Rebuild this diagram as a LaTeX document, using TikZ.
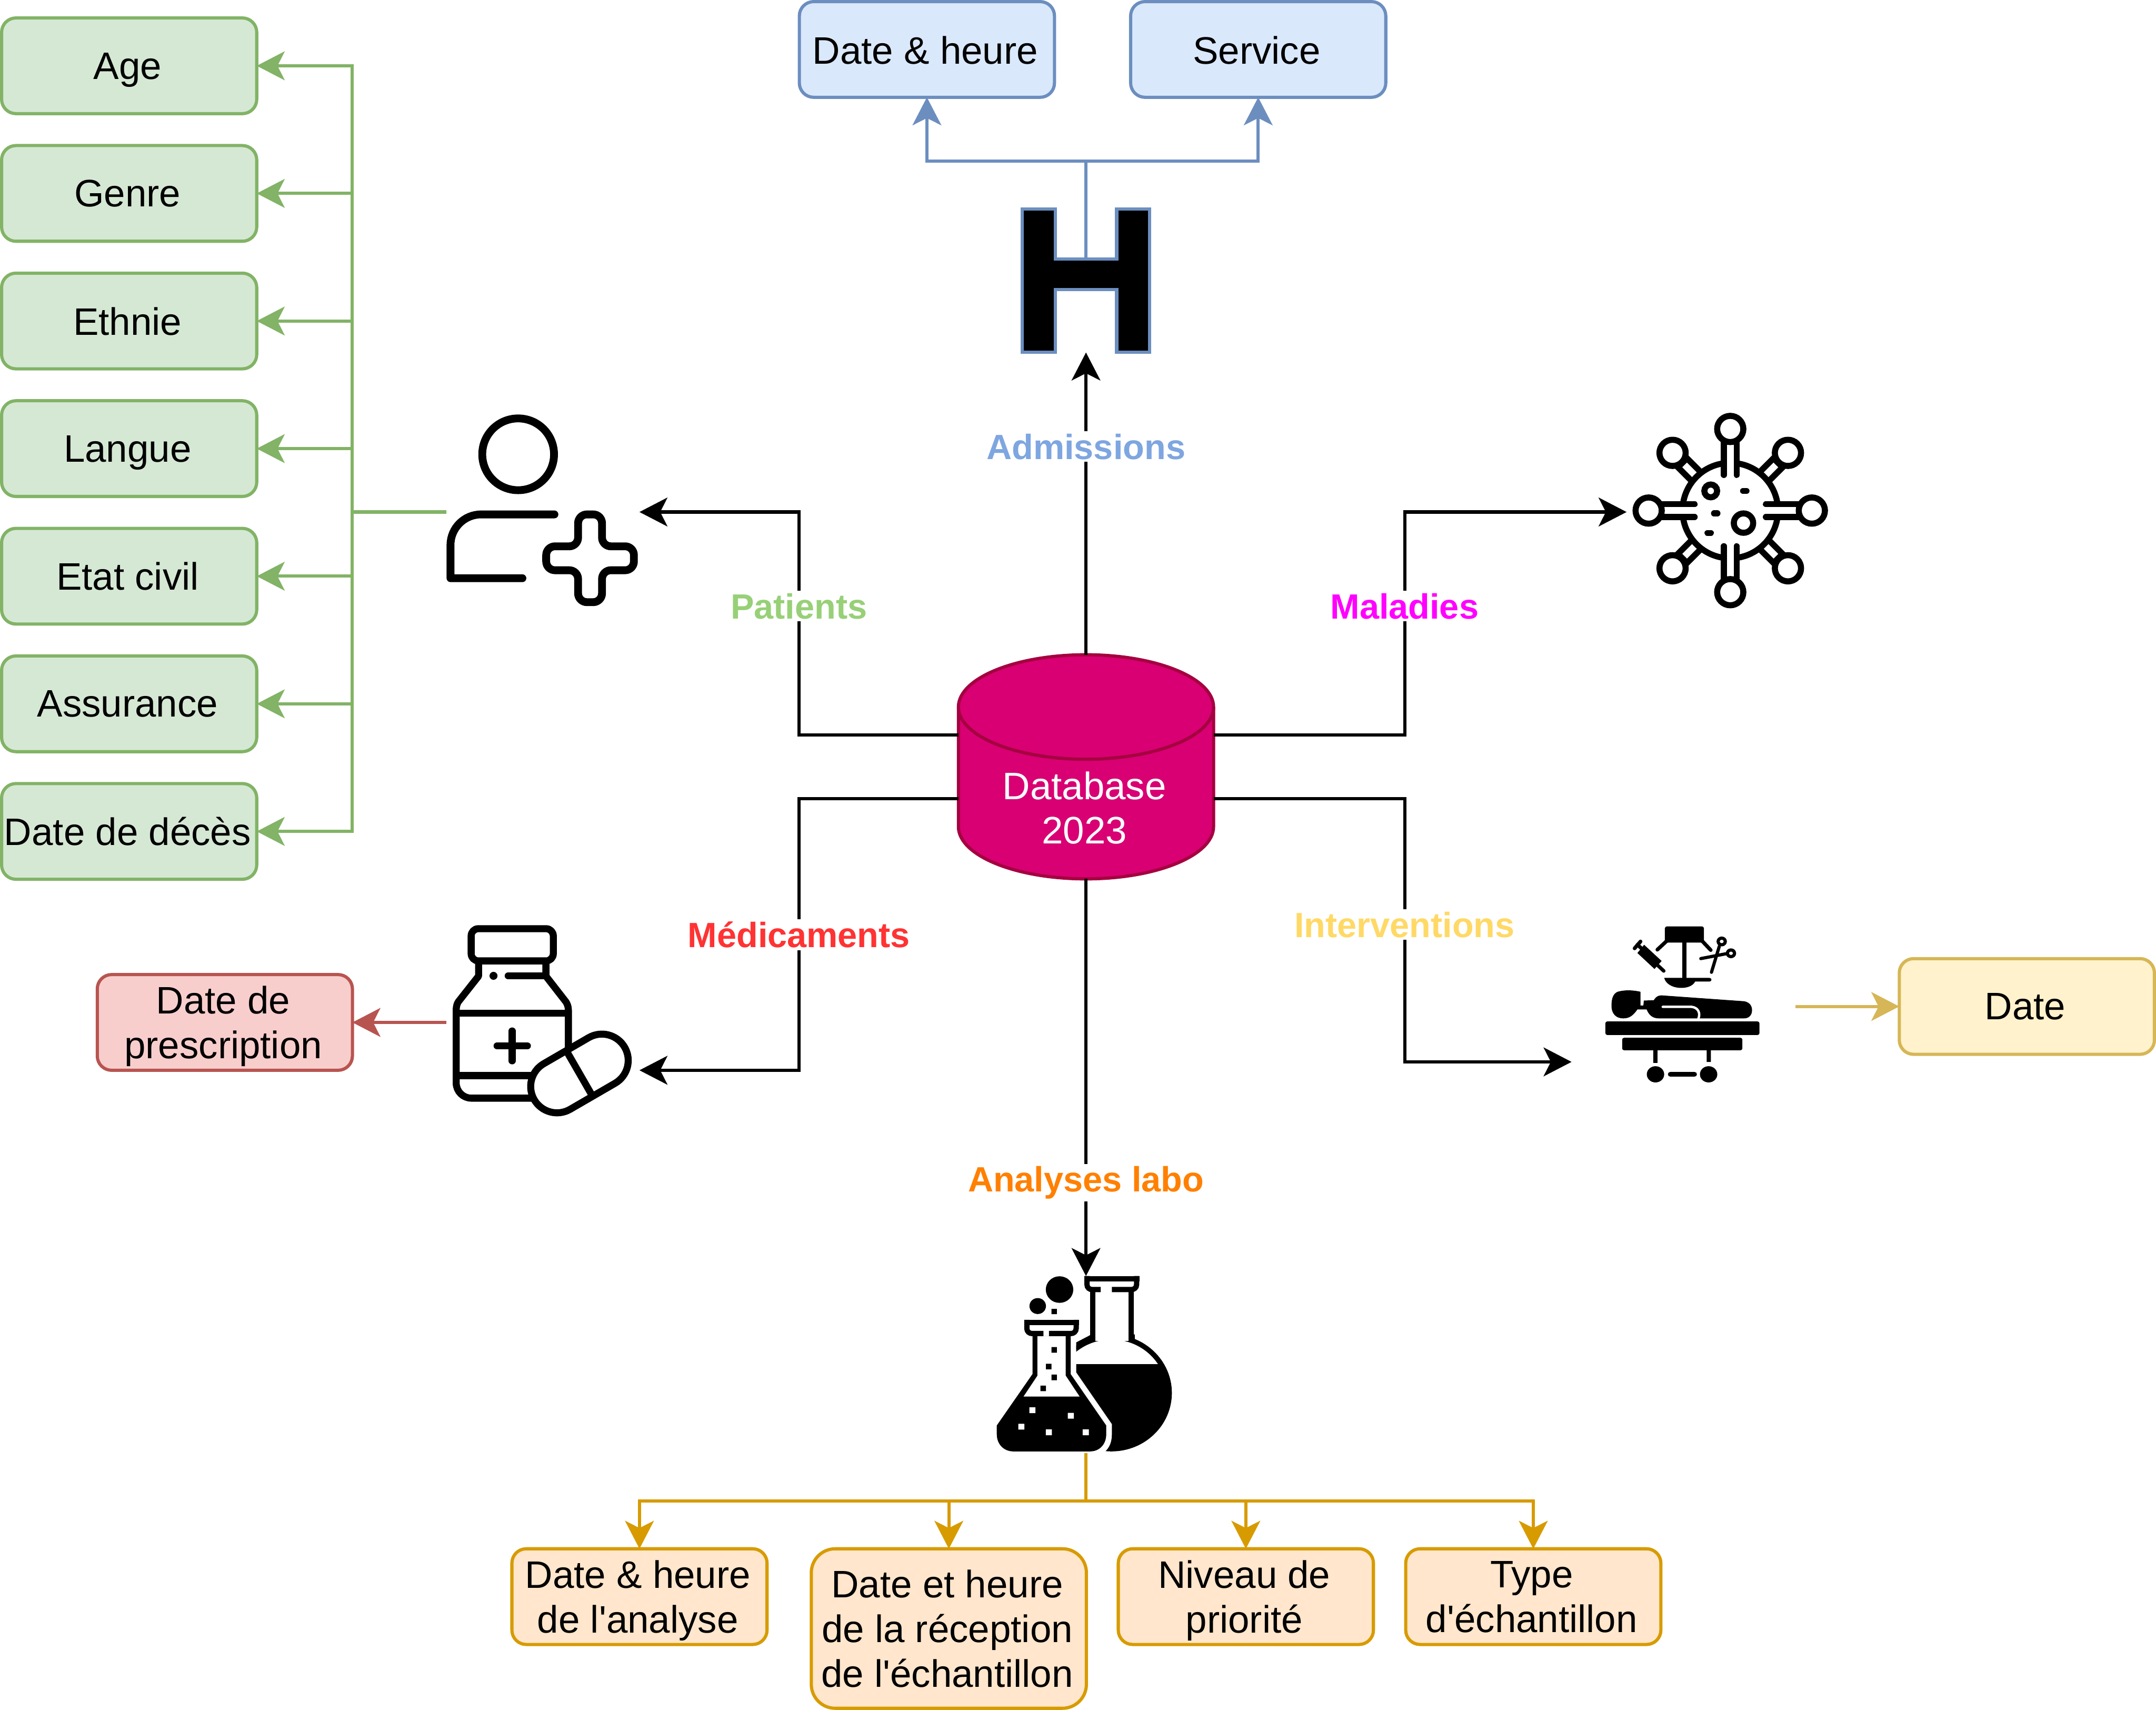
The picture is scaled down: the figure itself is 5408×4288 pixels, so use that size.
\documentclass[tikz,border=0pt]{standalone}
\usepackage{fontspec}
\setmainfont{Liberation Sans}[Ligatures=TeXOff]
\usetikzlibrary{arrows.meta}
\definecolor{gF}{HTML}{D5E8D4}\definecolor{gS}{HTML}{82B366}
\definecolor{bF}{HTML}{DAE8FC}\definecolor{bS}{HTML}{6C8EBF}
\definecolor{rF}{HTML}{F8CECC}\definecolor{rS}{HTML}{B85450}
\definecolor{yF}{HTML}{FFF2CC}\definecolor{yS}{HTML}{D6B656}
\definecolor{oF}{HTML}{FFE6CC}\definecolor{oS}{HTML}{D79B00}
\definecolor{dbF}{HTML}{D80073}\definecolor{dbS}{HTML}{A50040}
\definecolor{lP}{HTML}{97D077}\definecolor{lA}{HTML}{7EA6E0}\definecolor{lM}{HTML}{FF00FF}
\definecolor{lD}{HTML}{FF3333}\definecolor{lI}{HTML}{FFD966}\definecolor{lL}{HTML}{FF8000}
\tikzset{
  boxtext/.style={inner sep=0pt,outer sep=0pt,align=center,text=black,text depth=0pt,xshift=-1pt,
    font=\fontsize{24}{28}\selectfont},
  attr/.style={rectangle,rounded corners=9pt,draw,line width=2pt,outer sep=0pt,inner sep=0pt,
    minimum width=160pt,minimum height=60pt},
  gbox/.style={attr,draw=gS,fill=gF},
  bbox/.style={attr,draw=bS,fill=bF},
  rbox/.style={attr,draw=rS,fill=rF},
  ybox/.style={attr,draw=yS,fill=yF},
  obox/.style={attr,draw=oS,fill=oF},
  iconbox/.style={rectangle,inner sep=0pt,outer sep=0pt,minimum width=#1*0.25pt},
  tip/.style={-{Stealth[length=17.5pt,width=18pt,inset=4.5pt]}},
  link/.style={tip,line width=2pt,draw=#1},
  lbl/.style={fill=white,inner sep=1.5pt,text=#1,font=\fontsize{22}{26}\selectfont\bfseries},
}
\begin{document}
\begin{tikzpicture}[x=0.25pt,y=-0.25pt,line join=miter]
\useasboundingbox (0,0) rectangle (5408,4288);

% ---------- database
\draw[line width=2pt,dbS,fill=dbF] (2404,1773) arc[x radius=320,y radius=131,start angle=180,end angle=360]
  -- (3044,2073) arc[x radius=320,y radius=131,start angle=0,end angle=180] -- cycle;
\draw[line width=2pt,dbS] (2404,1773) arc[x radius=320,y radius=131,start angle=180,end angle=0];
\node[rectangle,inner sep=0pt,outer sep=0pt,minimum width=160pt,minimum height=140.5pt] (db) at (2724,1923) {};
\node[font=\fontsize{24}{28}\selectfont,text=white,align=center,inner sep=0pt] (dbtxt) at (2720,2026) {Database\\2023};

% ---------- hospital icon
\draw[line width=2pt,draw=bS,fill=black,line join=miter]
 (2564,524)--(2647,524)--(2647,649)--(2801,649)--(2801,524)--(2884,524)--(2884,883)--(2801,883)
 --(2801,726)--(2647,726)--(2647,883)--(2564,883)--cycle;
\node[iconbox=328,minimum height=90pt] (hosp) at (2724,704) {};
\coordinate (hospBar) at (2724,649);

% ---------- patient icon (zoom coordinates, 2.8 per pixel)
\node[iconbox=484,minimum height=122pt] (patient) at (1362,1284) {};
\begin{scope}[shift={(1080,1000)},x=0.0893pt,y=-0.0893pt,line width=4.9pt,line cap=round,line join=round]
 \draw (615,390) circle[radius=252];
 \draw (870,812) -- (355,812) arc[x radius=215,y radius=215,start angle=270,end angle=180] -- (140,1260) -- (645,1260);
 \draw[rounded corners=5.5pt] (1036,1036)--(1036,812)--(1204,812)--(1204,1036)--(1428,1036)--(1428,1204)
   --(1204,1204)--(1204,1428)--(1036,1428)--(1036,1204)--(812,1204)--(812,1036)--cycle;
\end{scope}

% ---------- virus icon
\node[iconbox=520,minimum height=130pt] (virus) at (4340,1284) {};
\begin{scope}[shift={(4050,1000)},x=0.0893pt,y=-0.0893pt,line width=3.8pt]
 \draw (812,785) circle[radius=335];
 \foreach \a in {0,90,180,270}{
  \begin{scope}[shift={(812,785)},rotate=\a]
   \fill[white] (-45,-500) rectangle (45,-240);
   \draw[line cap=round] (-45,-480) -- (-45,-250);
   \draw[line cap=round] (45,-480) -- (45,-250);
   \draw[fill=white] (0,-573) circle[radius=92];
  \end{scope}}
 \foreach \a in {45,135,225,315}{
  \begin{scope}[shift={(812,785)},rotate=\a]
   \draw (-45,-485) -- (-45,-340);
   \draw (45,-485) -- (45,-340);
   \draw[fill=white] (0,-573) circle[radius=92];
   \draw (-45,-475) -- (45,-475);
  \end{scope}}
 \draw (675,647) circle[radius=45];
 \draw (905,873) circle[radius=68];
 \draw[line cap=round] (902,647)--(926,647) (698,805)--(722,805) (652,942)--(676,942);
\end{scope}

% ---------- medicine icon
\node[iconbox=484,minimum height=121pt] (med) at (1362,2564) {};
\coordinate (medIn) at (1604,2684);
\begin{scope}[shift={(1080,2280)},x=0.0893pt,y=-0.0893pt,line width=4.4pt,line join=round]
 \draw[rounded corners=4.5pt] (285,137) rectangle (862,363);
 \draw (337,363)--(337,470)--(195,650) .. controls (185,665) and (180,685) .. (180,710) -- (180,1220)
   arc[x radius=107,y radius=107,start angle=180,end angle=90] -- (730,1327);
 \draw (810,363)--(810,470)--(950,650) .. controls (960,665) and (968,685) .. (968,710) -- (968,1000);
 \draw (180,731)--(968,731);
 \draw (180,1169)--(730,1169);
 \draw[line cap=round] (545,468)--(810,468);
 \fill (442,468) circle[radius=28];
 \draw[line cap=round] (573,855)--(573,1065) (467,960)--(680,960);
 \draw[fill=white] (980.5,1405) arc[radius=185,start angle=60,end angle=240] -- (1110.5,902)
   arc[radius=185,start angle=240,end angle=420] -- cycle;
 \draw (953,993)--(1138,1314);
\end{scope}

% ---------- surgery icon
\node[iconbox=562,minimum height=140.5pt] (surg) at (4223,2524) {};
\coordinate (surgIn) at (3942,2663);
\begin{scope}[shift={(3950,2280)},x=0.0893pt,y=-0.0833pt,line cap=round]
 \fill[rounded corners=1.2pt] (215,845) rectangle (1297,947);
 \fill[rounded corners=1.2pt] (333,968) rectangle (1177,1062);
 \fill (551,1062) rectangle (581,1157) (926,1062) rectangle (956,1150);
 \fill (567,1243) circle[radius=61] (940,1243) circle[radius=61];
 \draw[line width=3.2pt] (672,1243)--(840,1243);
 \fill (300,622) .. controls (350,605) and (420,610) .. (462,622) -- (462,725) -- (482,725) -- (485,688) -- (555,685)
   .. controls (575,650) and (600,645) .. (625,650) -- (1190,693) .. controls (1225,700) and (1245,725) .. (1245,760)
   .. controls (1245,795) and (1225,822) .. (1190,822) -- (590,822) .. controls (545,822) and (520,795) .. (505,755)
   -- (440,755) .. controls (410,800) and (385,822) .. (340,822) .. controls (285,822) and (258,780) .. (258,730)
   .. controls (258,680) and (265,640) .. (300,622) -- cycle;
 \draw[white,line width=1.5pt,line cap=round] (618,735)--(820,735) .. controls (865,740) and (885,780) .. (868,825);
 \fill[rounded corners=1.2pt] (633,130) rectangle (907,252);
 \draw[line width=2.3pt] (580,305)--(645,240) (955,308)--(895,240);
 \fill (755,250) rectangle (785,520);
 \fill (628,517) .. controls (650,610) and (815,615) .. (845,545) -- (945,545)
   .. controls (965,545) and (965,517) .. (945,517) -- cycle;
 \draw[line width=2.3pt] (420,295)--(462,243);
 \draw[line width=2.3pt] (440,268)--(490,315);
 \fill (487,268)--(610,390)--(560,450)--(440,330)--cycle;
 \draw[line width=2.2pt] (585,425)--(625,465);
 \draw[line width=2pt] (1032,243) circle[radius=25] (1097,332) circle[radius=25];
 \draw[line width=2pt] (960,475)--(1015,280) (885,372)--(1065,335);
\end{scope}

% ---------- flasks icon
\node[iconbox=480,minimum height=111pt] (flask) at (2724,3422) {};
\begin{scope}[shift={(2440,3150)},x=0.0861pt,y=-0.0833pt]
 \begin{scope}
  \fill (1010,1030) circle[radius=440];
  \clip (600,400) rectangle (1500,810);
  \fill[white] (1010,1030) circle[radius=402];
 \end{scope}
 \fill[white] (892,560) rectangle (1133,640);
 \fill[white] (500,500) -- (753,500) -- (753,875) -- (1013,1265) -- (1013,1340)
   .. controls (1013,1400) and (995,1440) .. (965,1470) -- (965,1480) -- (500,1480) -- cycle;
 \fill[white] (800,500) rectangle (1200,560);
 \draw[line width=3.3pt] (873,250)--(873,625) (1152,250)--(1152,625);
 \fill (753,650) -- (855,595) -- (891,625) -- (753,702) -- cycle;
 \fill (1135,590) -- (1180,590) -- (1180,640) -- (1135,625) -- cycle;
 \draw[line width=3.3pt] (832,150)--(832,215) .. controls (832,238) and (850,252) .. (870,252)--(932,252);
 \draw[line width=3.3pt] (812,170)--(1213,170);
 \draw[line width=3.3pt] (1193,150)--(1193,215) .. controls (1193,238) and (1175,252) .. (1155,252)--(1013,252);
 \fill (435,602)--(713,602)--(713,888)--(972,1275)--(972,1340) .. controls (972,1420) and (920,1470) .. (855,1470)
   -- (295,1470) .. controls (230,1470) and (175,1420) .. (175,1340) -- (175,1275) -- (435,888) -- cycle;
 \fill[white] (471,602)--(677,602)--(677,900)--(778,1057)--(370,1057)--(471,900)--cycle;
 \draw[line width=3.3pt] (394,480)--(394,545) .. controls (394,568) and (412,583) .. (432,583)--(515,583);
 \draw[line width=3.3pt] (375,500)--(773,500);
 \draw[line width=3.3pt] (753,480)--(753,545) .. controls (753,568) and (735,583) .. (715,583)--(555,583);
 \fill (632,252) circle[radius=100] (473,376) circle[radius=60];
 \fill (573,397) rectangle (613,437) (573,685) rectangle (613,727) (533,810) rectangle (573,852)
   (573,892) rectangle (613,934) (493,975) rectangle (533,1017);
 \fill[white] (412,1138) rectangle (456,1182) (692,1180) rectangle (736,1224) (332,1262) rectangle (376,1306)
   (532,1304) rectangle (576,1348) (800,1304) rectangle (845,1348);
\end{scope}

% ---------- attribute boxes
\foreach \n/\t/\y in {age/Age/165,genre/Genre/485,ethnie/Ethnie/805,langue/Langue/1125,etat/Etat civil/1445,assur/Assurance/1765,deces/Date de décès/2085}
  \node[gbox,label={[boxtext]center:\t}] (\n) at (324,\y) {};
\node[bbox,label={[boxtext,yshift=-0.5pt]center:Date \& heure}] (dh) at (2325,124) {};
\node[bbox,label={[boxtext,yshift=-0.5pt]center:Service}] (serv) at (3156,124) {};
\node[rbox,label={[boxtext]center:Date de\\prescription}] (presc) at (564,2564) {};
\node[ybox,label={[boxtext]center:Date}] (idate) at (5084,2524) {};
\node[obox,label={[boxtext]center:Date \& heure\\de l'analyse}] (la) at (1604,4004) {};
\node[obox,rounded corners=15pt,minimum width=172.5pt,minimum height=100pt,label={[boxtext]center:Date et heure\\de la réception\\de l'échantillon}] (lb) at (2380,4084) {};
\node[obox,label={[boxtext]center:Niveau de\\priorité}] (lc) at (3125,4004) {};
\node[obox,label={[boxtext]center:Type\\d'échantillon}] (ld) at (3846,4004) {};

% ---------- connectors
\foreach \n in {age,genre,ethnie,langue,etat,assur,deces}
  \draw[link=gS] (patient.west) -- ++(-237,0) |- (\n.east);
\draw[link=bS] (hospBar) -- ++(0,-245) -| (dh.south);
\draw[link=bS] (hospBar) -- ++(0,-245) -| (serv.south);
\draw[link=rS] (med.west) -- (presc.east);
\draw[link=yS] (surg.east) -- (idate.west);
\foreach \n in {la,lb,lc,ld}
  \draw[link=oS] (flask.south) -- ++(0,120) -| (\n.north);
\draw[link=black] (db.north) -- (hosp.south);
\draw[link=black] ([yshift=20pt]db.west) -- ++(-400,0) |- (patient.east);
\draw[link=black] ([yshift=20pt]db.east) -- ++(480,0) |- (virus.west);
\draw[link=black] ([yshift=-20pt]db.west) -- ++(-400,0) |- (medIn);
\draw[link=black] ([yshift=-20pt]db.east) -- ++(480,0) |- (surgIn);
\draw[link=black] (db.south) -- (flask.north);

% ---------- labels
\node[lbl=lA] (tA) at (2724,1120) {Admissions};
\node[lbl=lP] (tP) at (2004,1520) {Patients};
\node[lbl=lM] (tM) at (3523,1520) {Maladies};
\node[lbl=lD] (tD) at (2004,2344) {Médicaments};
\node[lbl=lI] (tI) at (3523,2319) {Interventions};
\node[lbl=lL] (tL) at (2724,2966) {Analyses labo};
\end{tikzpicture}
\end{document}
